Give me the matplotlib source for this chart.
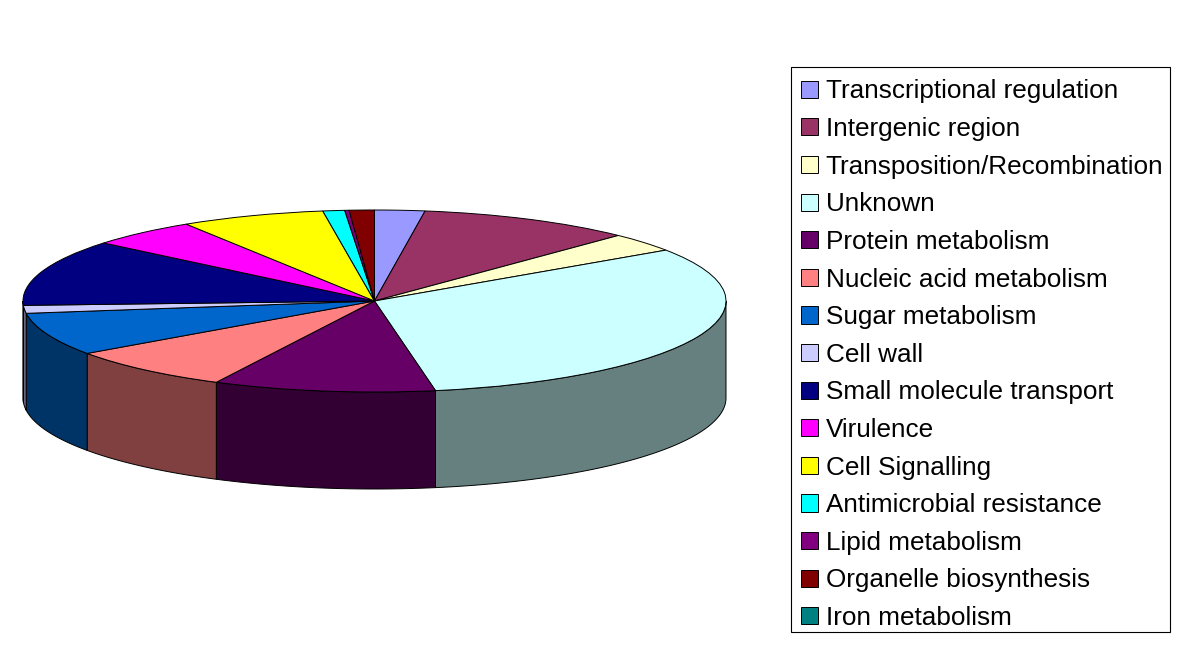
import numpy as np
import matplotlib
matplotlib.use("Agg")
import matplotlib.pyplot as plt
from matplotlib.patches import Rectangle

plt.rcParams['font.family'] = ['Liberation Sans', 'DejaVu Sans']

categories = ['Transcriptional regulation', 'Intergenic region', 'Transposition/Recombination',
              'Unknown', 'Protein metabolism', 'Nucleic acid metabolism', 'Sugar metabolism',
              'Cell wall', 'Small molecule transport', 'Virulence', 'Cell Signalling',
              'Antimicrobial resistance', 'Lipid metabolism', 'Organelle biosynthesis',
              'Iron metabolism']
values = [2.3, 9.9, 3.35, 31.65, 10.2, 7.8, 7.6, 1.4, 11.76, 5.0, 6.64, 1.0, 0.2, 1.15, 0.0]
colors = ['#9999FF', '#993366', '#FFFFCC', '#CCFFFF', '#660066', '#FF8080', '#0066CC',
          '#CCCCFF', '#000080', '#FF00FF', '#FFFF00', '#00FFFF', '#800080', '#800000',
          '#008080']

W, H = 1191, 651
CX, CY, RX, RY = 374.5, 301, 351.5, 91
DEPTH = 97 / RY

fig = plt.figure(figsize=(W / 100, H / 100), dpi=100)
ax = fig.add_axes([0, 0, 1, 1])

wedges, _ = ax.pie(values, colors=colors, startangle=90, counterclock=False,
                   wedgeprops={'edgecolor': 'black', 'linewidth': 0.7})
ax.set_aspect('auto')
ax.set_xlim(-CX / RX, (W - CX) / RX)
ax.set_ylim((CY - H) / RY, CY / RY)

# side wall of the disc, only the front half shows
edges = np.concatenate([[0], np.cumsum(values)]) / np.sum(values) * 2 * np.pi
for i, col in enumerate(colors):
    a0 = max(edges[i], np.pi / 2)
    a1 = min(edges[i + 1], 3 * np.pi / 2)
    if a1 <= a0:
        continue
    th = np.linspace(a0, a1, 60)
    xs = np.concatenate([np.sin(th), np.sin(th[::-1])])
    ys = np.concatenate([np.cos(th), np.cos(th[::-1]) - DEPTH])
    dark = tuple(c * 0.5 for c in matplotlib.colors.to_rgb(col))
    ax.fill(xs, ys, facecolor=dark, edgecolor='black', linewidth=0.7, zorder=0.5)

# legend frame drawn separately, its padding is not even left and right
ax.add_patch(Rectangle((791 / W, 1 - 632 / H), 379 / W, 565 / H, transform=fig.transFigure,
                       facecolor='white', edgecolor='black', linewidth=0.8, zorder=4))
leg = ax.legend(wedges, categories, loc='upper left',
                bbox_to_anchor=(790.5 / W, 1 - 68.5 / H), bbox_transform=fig.transFigure,
                fontsize=18.85, frameon=False, borderaxespad=0, borderpad=0.42,
                labelspacing=0.52, handlelength=0.63, handleheight=0.63,
                handletextpad=0.3)
leg.set_zorder(5)

fig.savefig('out.png', dpi=100)
